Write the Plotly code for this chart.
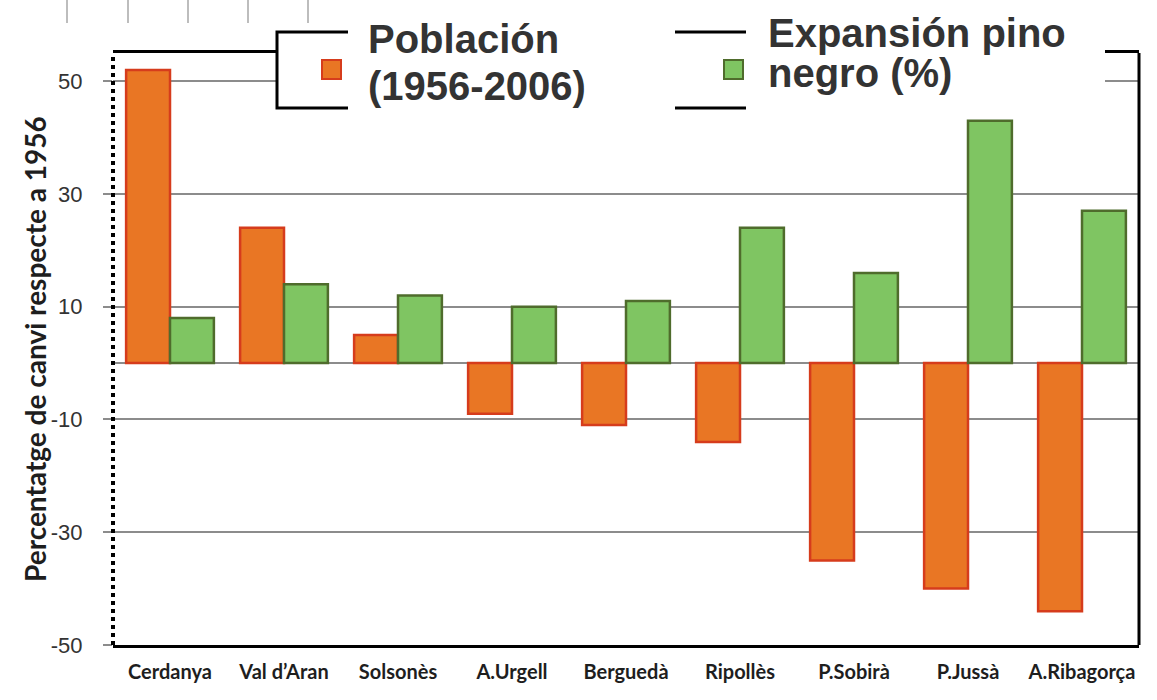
import plotly.graph_objects as go

# Comarques and percentage change relative to 1956
categories = ["Cerdanya", "Val d’Aran", "Solsonès", "A.Urgell", "Berguedà",
              "Ripollès", "P.Sobirà", "P.Jussà", "A.Ribagorça"]
poblacion = [52, 24, 5, -9, -11, -14, -35, -40, -44]
pino_negro = [8, 14, 12, 10, 11, 24, 16, 43, 27]

y_ticks = [-50, -30, -10, 10, 30, 50]

W, H = 1157, 700
L, R, T, B = 113, 1139, 53, 645


def px(x):
    return (x - L) / (R - L)


def py(y):
    return (B - y) / (B - T)


ORANGE, ORANGE_EDGE = "#E97624", "#D63C1C"
GREEN, GREEN_EDGE = "#7FC562", "#4F6C2C"
GRID = "#8C8C8C"

fig = go.Figure()
fig.add_trace(go.Bar(
    x=categories, y=poblacion, name="Población (1956-2006)",
    marker=dict(color=ORANGE, line=dict(color=ORANGE_EDGE, width=2.5)),
))
fig.add_trace(go.Bar(
    x=categories, y=pino_negro, name="Expansión pino negro (%)",
    marker=dict(color=GREEN, line=dict(color=GREEN_EDGE, width=2.5)),
))

shapes = []
# faint strip of vertical rules at the very top-left
for xv in [67, 128, 188, 248, 308]:
    shapes.append(dict(type="line", xref="paper", yref="paper",
                       x0=px(xv), x1=px(xv), y0=py(0), y1=py(23),
                       line=dict(color="#BDBDBD", width=2), layer="above"))
# left axis drawn dotted, right edge solid
shapes.append(dict(type="line", xref="paper", yref="paper",
                   x0=0, x1=0, y0=0, y1=1,
                   line=dict(color="black", width=4, dash="4px,4px"), layer="above"))
shapes.append(dict(type="line", xref="paper", yref="paper",
                   x0=px(R), x1=px(R), y0=0, y1=1,
                   line=dict(color="black", width=3), layer="above"))
# legend frame and swatches
shapes.append(dict(type="rect", xref="paper", yref="paper",
                   x0=px(277), x1=px(1080), y0=py(108), y1=py(32),
                   line=dict(color="black", width=3), fillcolor="white", layer="above"))
shapes.append(dict(type="rect", xref="paper", yref="paper",
                   x0=px(322), x1=px(341), y0=py(79), y1=py(60),
                   line=dict(color=ORANGE_EDGE, width=2), fillcolor=ORANGE, layer="above"))
shapes.append(dict(type="rect", xref="paper", yref="paper",
                   x0=px(724), x1=px(743), y0=py(79), y1=py(60),
                   line=dict(color=GREEN_EDGE, width=2), fillcolor=GREEN, layer="above"))
# white panels behind the large legend labels
shapes.append(dict(type="rect", xref="paper", yref="paper",
                   x0=px(348), x1=px(675), y0=py(112), y1=py(0),
                   line=dict(width=0), fillcolor="white", layer="above"))
shapes.append(dict(type="rect", xref="paper", yref="paper",
                   x0=px(746), x1=px(1105), y0=py(110), y1=py(0),
                   line=dict(width=0), fillcolor="white", layer="above"))

label_font = dict(family="Liberation Sans, Arial, sans-serif", size=40,
                  color="#333333", weight="bold")
annotations = []
for text, xl, yc in [("Población", 366, 39), ("(1956-2006)", 366, 86),
                     ("Expansión pino", 766, 33), ("negro (%)", 766, 73)]:
    annotations.append(dict(text=text, xref="paper", yref="paper",
                            x=px(xl), y=py(yc), xanchor="left", yanchor="middle",
                            showarrow=False, font=label_font))
annotations.append(dict(text="Percentatge de canvi respecte a 1956",
                        xref="paper", yref="paper", x=px(35), y=py(349),
                        xanchor="center", yanchor="middle", textangle=-90,
                        showarrow=False,
                        font=dict(family="Lato, sans-serif", size=28,
                                  color="#1E1E1E", weight="bold")))

fig.update_layout(
    width=W, height=H,
    margin=dict(l=L, r=W - R, t=T, b=H - B, pad=0),
    paper_bgcolor="white", plot_bgcolor="white",
    barmode="group", bargap=0.23, bargroupgap=0,
    showlegend=False,
    shapes=shapes, annotations=annotations,
    xaxis=dict(
        showline=True, mirror=True, linecolor="black", linewidth=3,
        showgrid=False, ticks="", ticklabelstandoff=7,
        tickfont=dict(family="Lato, sans-serif", size=20, color="#1E1E1E",
                      weight="bold"),
    ),
    yaxis=dict(
        range=[-50, 55], tickvals=y_ticks, ticktext=[str(v) for v in y_ticks],
        showgrid=True, gridcolor=GRID, gridwidth=2,
        zeroline=True, zerolinecolor=GRID, zerolinewidth=2,
        showline=False, ticks="outside", ticklen=9, tickwidth=2, tickcolor=GRID,
        ticklabelstandoff=16,
        tickfont=dict(family="Liberation Sans, Arial, sans-serif", size=22,
                      color="#333333"),
    ),
)

fig.write_html("out.html")
